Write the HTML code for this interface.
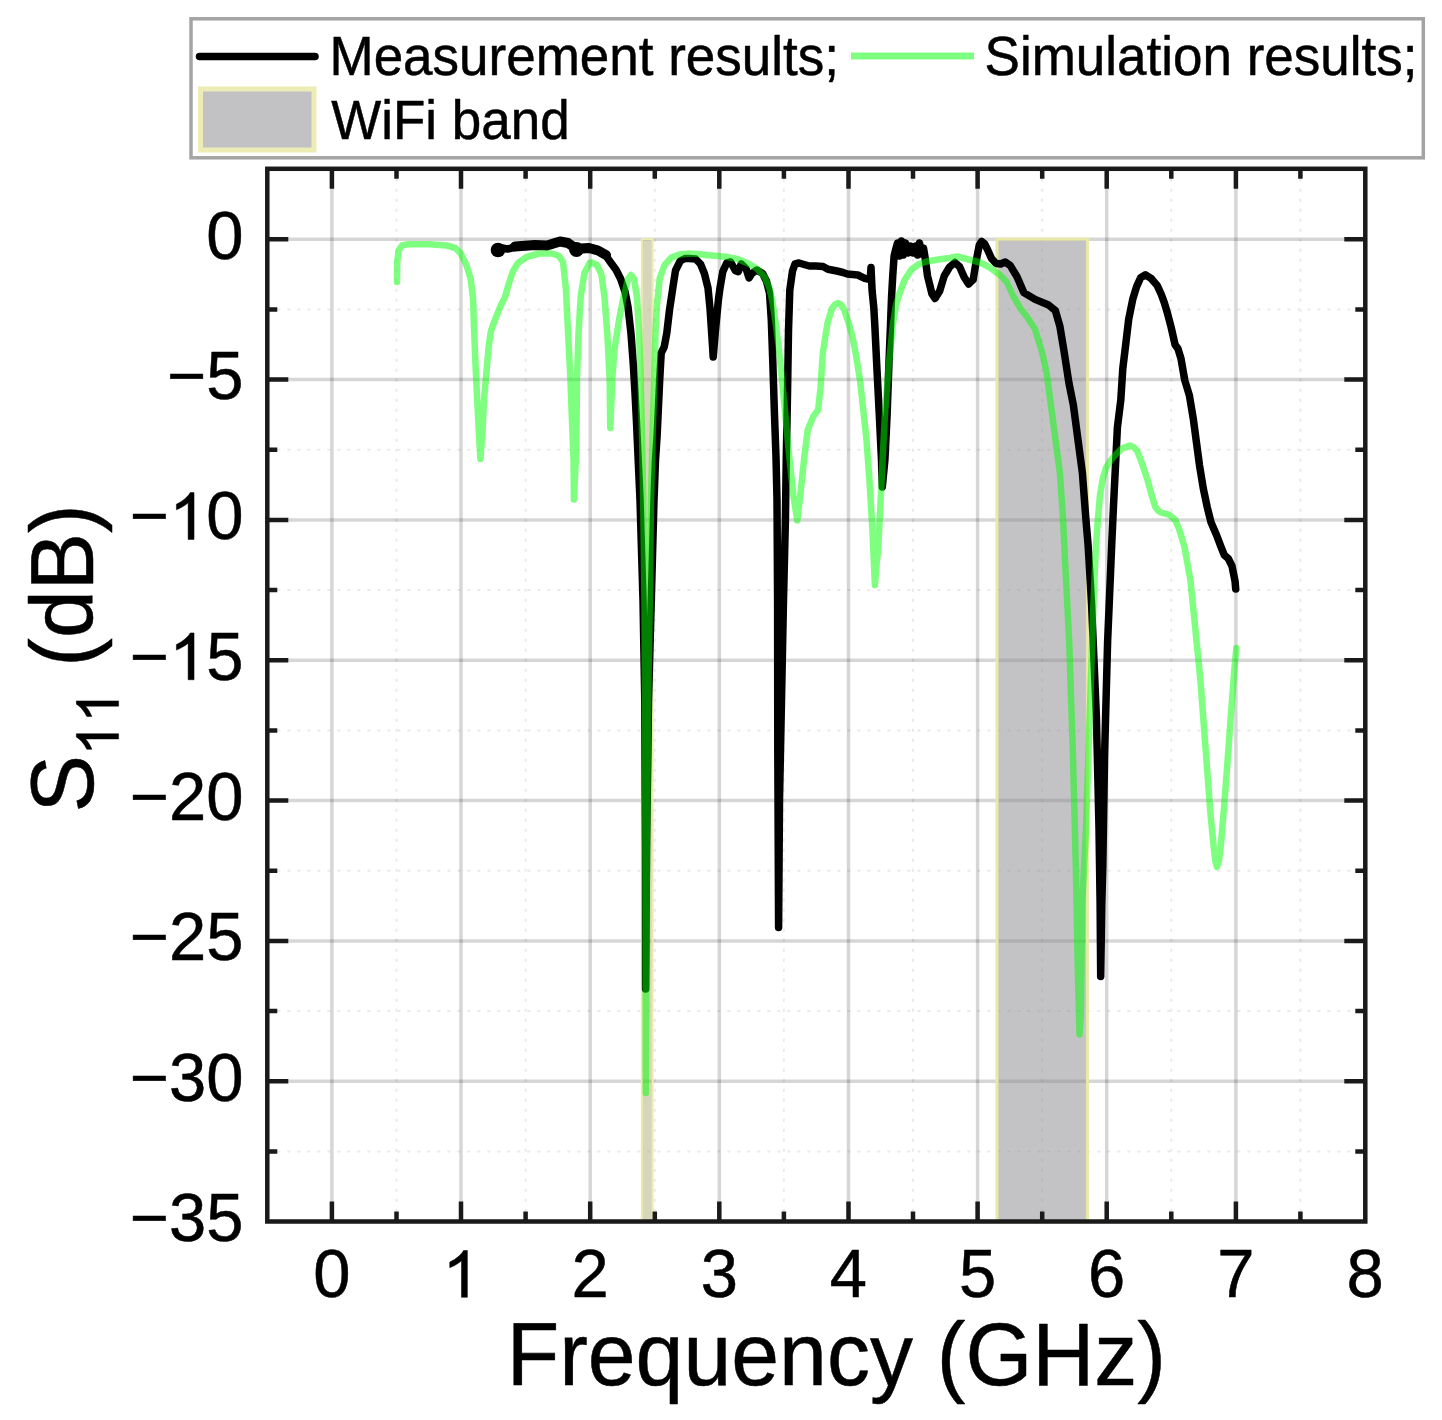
<!DOCTYPE html>
<html><head><meta charset="utf-8"><style>
html,body{margin:0;padding:0;background:#fff;width:1442px;height:1420px;overflow:hidden;position:relative}
#wrap{position:absolute;left:0;top:0;width:1442px;height:1420px}
</style></head><body><div id="wrap">
<svg width="1442" height="1420" viewBox="0 0 1442 1420" style="display:block">
<g>
<rect width="1442" height="1420" fill="#fff"/>
<rect x="191" y="18.8" width="1232.3" height="139" fill="#fff" stroke="#a4a4a4" stroke-width="3.5"/>
<line x1="199.5" y1="56.5" x2="315" y2="56.5" stroke="#000" stroke-width="7.5" stroke-linecap="round"/>
<line x1="851" y1="56" x2="974" y2="56" stroke="#00ff00" stroke-opacity="0.5" stroke-width="7"/>
<rect x="200.5" y="89" width="113.5" height="61" fill="#c2c2c5" stroke="#ececb4" stroke-width="5"/>
<g transform="translate(329.50,74.80) scale(0.02588,0.02704)" fill="#000" stroke="#000" stroke-width="19.3" stroke-linejoin="round"><text x="0" y="0" font-size="2048" font-family='"Liberation Sans", sans-serif' xml:space="preserve">Measurement results;</text></g>
<g transform="translate(984.60,74.80) scale(0.02588,0.02704)" fill="#000" stroke="#000" stroke-width="19.3" stroke-linejoin="round"><text x="0" y="0" font-size="2048" font-family='"Liberation Sans", sans-serif' xml:space="preserve">Simulation results;</text></g>
<g transform="translate(331.20,138.60) scale(0.02588,0.02704)" fill="#000" stroke="#000" stroke-width="19.3" stroke-linejoin="round"><text x="0" y="0" font-size="2048" font-family='"Liberation Sans", sans-serif' xml:space="preserve">WiFi band</text></g>
<path d="M396.5 168.8V1221.5M525.6 168.8V1221.5M654.8 168.8V1221.5M783.9 168.8V1221.5M913.0 168.8V1221.5M1042.2 168.8V1221.5M1171.3 168.8V1221.5M1300.4 168.8V1221.5M267.3 309.4H1365.3M267.3 449.7H1365.3M267.3 590.1H1365.3M267.3 730.4H1365.3M267.3 870.8H1365.3M267.3 1011.1H1365.3M267.3 1151.5H1365.3" stroke="#eaeaea" stroke-width="2" stroke-dasharray="3 7" fill="none"/>
<path d="M331.9 168.8V1221.5M461.0 168.8V1221.5M590.2 168.8V1221.5M719.3 168.8V1221.5M848.5 168.8V1221.5M977.6 168.8V1221.5M1106.7 168.8V1221.5M1235.9 168.8V1221.5" stroke="#000" stroke-opacity="0.16" stroke-width="3.5" fill="none"/>
<path d="M267.3 239.2H1365.3M267.3 379.5H1365.3M267.3 519.9H1365.3M267.3 660.2H1365.3M267.3 800.6H1365.3M267.3 941.0H1365.3M267.3 1081.3H1365.3" stroke="#000" stroke-opacity="0.16" stroke-width="3.5" fill="none"/>
<rect x="641.8" y="239.2" width="10.8" height="982.5" fill="#a4a468" fill-opacity="0.45" stroke="#ececb0" stroke-width="2"/>
<rect x="997.0" y="239.2" width="90.4" height="982.5" fill="#87878d" fill-opacity="0.5" stroke="#e8e8a8" stroke-width="3"/>
<polyline points="495.0,250.0 498.0,250.0 502.0,248.0 507.5,249.0 514.0,247.5 521.0,246.0 535.0,245.0 547.0,245.5 560.0,241.0 568.0,243.0 572.0,246.0 576.5,250.0 581.0,247.5 589.0,247.5 597.0,249.5 604.4,253.7 610.3,262.0 616.2,270.0 620.7,279.0 625.1,292.0 628.0,307.0 631.0,333.6 633.2,363.0 635.0,393.0 636.5,422.0 638.2,460.0 640.0,500.0 643.0,600.0 644.8,700.0 645.5,850.0 645.6,989.0 646.5,850.0 648.5,700.0 651.3,600.0 654.0,500.0 655.5,460.0 657.1,436.0 659.6,382.0 661.2,353.0 664.2,347.0 666.8,333.0 669.5,310.0 673.1,286.0 675.5,270.5 680.2,261.0 685.0,258.5 689.0,258.5 695.6,259.0 700.5,264.0 704.4,273.5 708.0,288.0 710.1,309.5 712.2,341.0 713.2,357.0 715.4,330.6 718.5,299.0 720.0,288.0 722.8,271.6 726.7,263.0 730.6,262.0 735.4,270.6 738.3,271.6 741.3,264.0 746.1,268.7 749.0,278.0 751.9,273.5 756.8,270.0 762.6,273.5 766.5,281.3 769.5,293.0 771.3,320.0 772.8,362.0 774.5,415.0 776.0,457.0 777.0,500.0 777.6,600.0 777.8,750.0 778.6,927.5 779.5,800.0 781.5,700.0 783.5,600.0 785.4,520.0 786.3,457.0 787.5,394.0 788.5,331.0 789.8,290.0 792.5,271.0 795.0,264.0 799.0,263.0 804.0,264.5 809.3,266.0 816.0,266.0 823.0,266.5 828.0,269.2 837.0,271.0 843.0,272.5 847.4,274.0 857.8,275.0 864.7,278.3 870.2,279.5 871.0,267.5 872.1,290.7 873.8,307.6 874.8,325.0 877.0,370.0 879.3,415.0 881.5,460.0 882.3,487.0 884.9,460.0 887.1,415.0 888.7,370.0 890.5,325.0 891.6,296.0 892.8,275.0 894.1,256.0 895.5,250.0 897.5,243.0 899.5,256.0 901.5,241.0 903.5,255.0 905.5,243.0 908.0,253.0 910.5,246.0 913.0,253.0 915.5,246.0 917.5,255.0 919.5,243.0 921.5,254.0 923.5,248.0 925.0,257.0 927.5,275.8 932.0,294.0 935.0,298.5 939.7,291.0 944.2,276.0 949.6,267.0 954.9,262.5 959.5,266.6 964.1,277.0 968.6,284.0 973.2,279.6 976.3,260.5 979.3,245.0 981.6,241.5 984.7,244.0 987.7,250.0 991.5,258.5 996.1,263.5 1000.7,264.0 1005.3,262.0 1010.3,265.6 1017.0,276.8 1023.8,292.6 1035.1,299.4 1048.6,305.0 1055.4,310.7 1059.9,326.4 1064.4,353.5 1068.9,382.8 1073.4,405.3 1077.9,439.2 1082.4,473.0 1085.8,518.0 1088.1,545.0 1091.6,604.6 1096.4,716.6 1099.0,828.5 1100.1,903.0 1100.7,976.5 1101.8,903.0 1102.8,866.0 1104.6,754.0 1107.6,642.0 1111.7,545.0 1113.7,501.5 1117.4,427.5 1120.8,400.0 1122.8,368.5 1125.8,343.8 1128.7,319.2 1132.7,299.4 1136.6,286.6 1140.6,277.8 1145.5,274.8 1151.4,278.7 1157.3,285.6 1161.3,294.5 1164.2,302.4 1167.2,312.3 1171.1,327.1 1175.1,344.8 1178.0,348.8 1181.0,358.6 1184.7,380.0 1189.4,395.5 1193.3,418.8 1196.4,442.0 1199.5,465.3 1203.3,488.5 1207.2,507.1 1211.1,522.6 1216.5,535.0 1221.2,547.4 1224.3,555.2 1228.1,558.3 1232.0,566.0 1235.1,581.6 1235.7,589.0" fill="none" stroke="#000" stroke-width="7.5" stroke-linejoin="round" stroke-linecap="round"/>
<polyline points="515,246.5 535,245 547,245.5 560,241.5 568,243 576.5,249 589,248 598,250.5 606,255" fill="none" stroke="#000" stroke-width="10" stroke-linejoin="round" stroke-linecap="round"/>
<circle cx="498" cy="250" r="7.3" fill="#000"/><circle cx="576.5" cy="249.5" r="7.5" fill="#000"/>
<polyline points="397.0,282.0 397.2,262.0 398.6,250.5 402.0,245.5 408.0,244.3 429.0,244.3 446.6,245.5 455.4,248.0 460.7,253.5 466.0,264.0 470.5,278.0 473.0,298.0 474.1,330.0 475.5,365.0 477.2,400.0 479.0,435.0 480.4,459.0 482.3,435.0 484.0,400.0 486.6,370.0 488.5,348.0 490.9,331.0 495.7,318.0 500.5,306.0 505.0,297.0 509.0,283.0 513.0,271.0 518.0,263.0 526.5,257.0 539.0,253.5 552.0,253.5 559.0,256.0 563.0,262.0 565.9,289.0 568.1,333.6 570.4,378.0 572.0,422.0 573.6,460.0 573.9,499.5 575.8,460.0 576.6,422.0 577.0,378.0 578.5,333.6 580.7,296.6 584.4,273.0 589.6,263.0 591.8,262.5 597.0,265.0 601.4,274.4 604.4,296.6 607.3,333.6 609.6,378.0 610.3,428.0 612.3,378.0 614.7,348.3 619.2,318.8 623.6,296.6 628.0,279.0 631.0,275.0 634.0,279.0 636.9,296.6 639.1,333.6 640.6,378.0 642.1,440.0 643.2,500.0 644.5,600.0 645.0,700.0 645.5,900.0 645.8,1093.0 646.6,900.0 648.2,700.0 649.8,600.0 651.0,500.0 652.5,440.0 654.3,378.0 655.6,330.0 657.0,305.0 659.7,278.4 664.6,265.0 671.4,257.5 679.1,254.5 688.8,253.5 698.5,254.0 708.3,255.2 718.0,256.1 727.7,257.1 737.4,259.0 747.1,263.0 756.8,268.5 764.6,277.0 769.4,288.0 772.5,302.0 775.5,322.0 778.5,345.0 781.0,370.0 785.0,411.0 789.3,457.0 793.3,495.0 797.3,520.5 800.5,493.0 804.2,458.0 807.7,430.0 813.5,416.0 818.1,410.0 820.5,388.0 822.8,353.0 827.5,323.0 832.0,308.5 835.0,304.5 838.3,303.0 841.0,304.5 843.7,309.0 848.4,322.0 852.3,336.0 856.0,355.0 860.1,381.0 866.3,437.6 869.6,482.6 872.3,527.6 874.0,565.0 874.9,585.0 876.5,565.0 878.1,550.0 880.4,505.0 882.6,460.0 884.9,415.0 888.3,370.0 892.8,325.0 896.0,305.0 899.5,293.5 904.6,280.0 911.4,269.5 919.1,264.0 926.7,261.5 938.1,259.5 949.6,258.0 957.2,256.5 964.8,258.5 972.5,260.5 980.1,262.5 989.0,267.0 995.0,271.5 999.6,274.5 1006.7,282.0 1013.7,297.0 1020.8,309.0 1027.8,318.0 1034.9,329.0 1041.8,351.2 1046.4,371.5 1050.9,405.3 1055.4,439.2 1059.9,473.0 1063.0,518.0 1065.0,560.0 1069.2,642.0 1072.9,754.0 1075.8,866.0 1078.0,978.0 1079.5,1034.5 1080.8,1015.0 1082.3,903.0 1086.0,828.5 1089.7,716.6 1093.4,604.6 1096.0,545.0 1098.0,518.0 1100.0,495.0 1102.5,480.0 1105.9,468.0 1109.5,462.0 1113.8,456.5 1121.7,448.6 1129.6,445.6 1134.0,447.5 1137.5,451.6 1142.4,464.4 1147.3,479.2 1151.3,494.0 1155.2,506.8 1158.0,510.5 1161.1,512.7 1169.0,514.7 1175.0,519.6 1178.9,528.5 1181.9,538.3 1184.8,548.2 1186.8,560.0 1190.4,580.0 1193.8,613.8 1197.2,647.6 1200.5,681.4 1203.9,726.4 1207.3,771.4 1210.7,816.5 1213.8,848.0 1215.3,861.0 1217.0,867.0 1218.9,861.0 1220.6,848.0 1224.2,805.2 1227.6,760.2 1230.9,715.1 1234.3,670.1 1236.3,648.0" fill="none" stroke="#00ff00" stroke-opacity="0.5" stroke-width="6.5" stroke-linejoin="round" stroke-linecap="round"/>
<path d="M331.9 1221.5v-20M331.9 168.8v20M396.5 1221.5v-10M396.5 168.8v10M461.0 1221.5v-20M461.0 168.8v20M525.6 1221.5v-10M525.6 168.8v10M590.2 1221.5v-20M590.2 168.8v20M654.8 1221.5v-10M654.8 168.8v10M719.3 1221.5v-20M719.3 168.8v20M783.9 1221.5v-10M783.9 168.8v10M848.5 1221.5v-20M848.5 168.8v20M913.0 1221.5v-10M913.0 168.8v10M977.6 1221.5v-20M977.6 168.8v20M1042.2 1221.5v-10M1042.2 168.8v10M1106.7 1221.5v-20M1106.7 168.8v20M1171.3 1221.5v-10M1171.3 168.8v10M1235.9 1221.5v-20M1235.9 168.8v20M1300.4 1221.5v-10M1300.4 168.8v10M267.3 239.2h21M1365.3 239.2h-21M267.3 309.4h10M1365.3 309.4h-10M267.3 379.5h21M1365.3 379.5h-21M267.3 449.7h10M1365.3 449.7h-10M267.3 519.9h21M1365.3 519.9h-21M267.3 590.1h10M1365.3 590.1h-10M267.3 660.2h21M1365.3 660.2h-21M267.3 730.4h10M1365.3 730.4h-10M267.3 800.6h21M1365.3 800.6h-21M267.3 870.8h10M1365.3 870.8h-10M267.3 941.0h21M1365.3 941.0h-21M267.3 1011.1h10M1365.3 1011.1h-10M267.3 1081.3h21M1365.3 1081.3h-21M267.3 1151.5h10M1365.3 1151.5h-10" stroke="#1a1a1a" stroke-width="4.5" fill="none"/>
<rect x="267.3" y="168.8" width="1098.0" height="1052.7" fill="none" stroke="#1a1a1a" stroke-width="4.5"/>
<g transform="translate(206.34,258.70) scale(0.03271,0.03321)" fill="#000" stroke="#000" stroke-width="15.3" stroke-linejoin="round"><text x="0" y="0" font-size="2048" font-family='"Liberation Sans", sans-serif' xml:space="preserve">0</text></g>
<g transform="translate(167.21,399.05) scale(0.03271,0.03321)" fill="#000" stroke="#000" stroke-width="15.3" stroke-linejoin="round"><text x="0" y="0" font-size="2048" font-family='"Liberation Sans", sans-serif' xml:space="preserve">−5</text></g>
<g transform="translate(129.95,539.40) scale(0.03271,0.03321)" fill="#000" stroke="#000" stroke-width="15.3" stroke-linejoin="round"><text x="0" y="0" font-size="2048" font-family='"Liberation Sans", sans-serif' xml:space="preserve">−</text><path transform="translate(1196,0) scale(1,-1)" d="M763 0H583V1102C540 1063 483 1022 413 983C343 944 280 914 224 893V1060C325 1106 412 1161 487 1226C562 1292 615 1353 646 1409H763Z"/><text x="2335" y="0" font-size="2048" font-family='"Liberation Sans", sans-serif' xml:space="preserve">0</text></g>
<g transform="translate(129.95,679.75) scale(0.03271,0.03321)" fill="#000" stroke="#000" stroke-width="15.3" stroke-linejoin="round"><text x="0" y="0" font-size="2048" font-family='"Liberation Sans", sans-serif' xml:space="preserve">−</text><path transform="translate(1196,0) scale(1,-1)" d="M763 0H583V1102C540 1063 483 1022 413 983C343 944 280 914 224 893V1060C325 1106 412 1161 487 1226C562 1292 615 1353 646 1409H763Z"/><text x="2335" y="0" font-size="2048" font-family='"Liberation Sans", sans-serif' xml:space="preserve">5</text></g>
<g transform="translate(129.95,820.10) scale(0.03271,0.03321)" fill="#000" stroke="#000" stroke-width="15.3" stroke-linejoin="round"><text x="0" y="0" font-size="2048" font-family='"Liberation Sans", sans-serif' xml:space="preserve">−20</text></g>
<g transform="translate(129.95,960.45) scale(0.03271,0.03321)" fill="#000" stroke="#000" stroke-width="15.3" stroke-linejoin="round"><text x="0" y="0" font-size="2048" font-family='"Liberation Sans", sans-serif' xml:space="preserve">−25</text></g>
<g transform="translate(129.95,1100.80) scale(0.03271,0.03321)" fill="#000" stroke="#000" stroke-width="15.3" stroke-linejoin="round"><text x="0" y="0" font-size="2048" font-family='"Liberation Sans", sans-serif' xml:space="preserve">−30</text></g>
<g transform="translate(129.95,1241.15) scale(0.03271,0.03321)" fill="#000" stroke="#000" stroke-width="15.3" stroke-linejoin="round"><text x="0" y="0" font-size="2048" font-family='"Liberation Sans", sans-serif' xml:space="preserve">−35</text></g>
<g transform="translate(313.27,1297.30) scale(0.03271,0.03321)" fill="#000" stroke="#000" stroke-width="15.3" stroke-linejoin="round"><text x="0" y="0" font-size="2048" font-family='"Liberation Sans", sans-serif' xml:space="preserve">0</text></g>
<g transform="translate(442.41,1297.30) scale(0.03271,0.03321)" fill="#000" stroke="#000" stroke-width="15.3" stroke-linejoin="round"><path transform="translate(0,0) scale(1,-1)" d="M763 0H583V1102C540 1063 483 1022 413 983C343 944 280 914 224 893V1060C325 1106 412 1161 487 1226C562 1292 615 1353 646 1409H763Z"/></g>
<g transform="translate(571.55,1297.30) scale(0.03271,0.03321)" fill="#000" stroke="#000" stroke-width="15.3" stroke-linejoin="round"><text x="0" y="0" font-size="2048" font-family='"Liberation Sans", sans-serif' xml:space="preserve">2</text></g>
<g transform="translate(700.69,1297.30) scale(0.03271,0.03321)" fill="#000" stroke="#000" stroke-width="15.3" stroke-linejoin="round"><text x="0" y="0" font-size="2048" font-family='"Liberation Sans", sans-serif' xml:space="preserve">3</text></g>
<g transform="translate(829.83,1297.30) scale(0.03271,0.03321)" fill="#000" stroke="#000" stroke-width="15.3" stroke-linejoin="round"><text x="0" y="0" font-size="2048" font-family='"Liberation Sans", sans-serif' xml:space="preserve">4</text></g>
<g transform="translate(958.97,1297.30) scale(0.03271,0.03321)" fill="#000" stroke="#000" stroke-width="15.3" stroke-linejoin="round"><text x="0" y="0" font-size="2048" font-family='"Liberation Sans", sans-serif' xml:space="preserve">5</text></g>
<g transform="translate(1088.11,1297.30) scale(0.03271,0.03321)" fill="#000" stroke="#000" stroke-width="15.3" stroke-linejoin="round"><text x="0" y="0" font-size="2048" font-family='"Liberation Sans", sans-serif' xml:space="preserve">6</text></g>
<g transform="translate(1217.25,1297.30) scale(0.03271,0.03321)" fill="#000" stroke="#000" stroke-width="15.3" stroke-linejoin="round"><text x="0" y="0" font-size="2048" font-family='"Liberation Sans", sans-serif' xml:space="preserve">7</text></g>
<g transform="translate(1346.39,1297.30) scale(0.03271,0.03321)" fill="#000" stroke="#000" stroke-width="15.3" stroke-linejoin="round"><text x="0" y="0" font-size="2048" font-family='"Liberation Sans", sans-serif' xml:space="preserve">8</text></g>
<g transform="translate(506.65,1384.90) scale(0.04199,0.04367)" fill="#000" stroke="#000" stroke-width="11.9" stroke-linejoin="round"><text x="0" y="0" font-size="2048" font-family='"Liberation Sans", sans-serif' xml:space="preserve">Frequency (GHz)</text></g>
<g transform="translate(92.8,812.6) rotate(-90)"><g transform="translate(0.00,0.00) scale(0.04199,0.04367)" fill="#000" stroke="#000" stroke-width="11.9" stroke-linejoin="round"><text x="0" y="0" font-size="2048" font-family='"Liberation Sans", sans-serif' xml:space="preserve">S</text></g><g transform="translate(56.86,25.80) scale(0.02881,0.02996)" fill="#000" stroke="#000" stroke-width="17.4" stroke-linejoin="round"><path transform="translate(0,0) scale(1,-1)" d="M763 0H583V1102C540 1063 483 1022 413 983C343 944 280 914 224 893V1060C325 1106 412 1161 487 1226C562 1292 615 1353 646 1409H763Z"/><path transform="translate(1139,0) scale(1,-1)" d="M763 0H583V1102C540 1063 483 1022 413 983C343 944 280 914 224 893V1060C325 1106 412 1161 487 1226C562 1292 615 1353 646 1409H763Z"/></g><g transform="translate(121.99,0.00) scale(0.04199,0.04367)" fill="#000" stroke="#000" stroke-width="11.9" stroke-linejoin="round"><text x="0" y="0" font-size="2048" font-family='"Liberation Sans", sans-serif' xml:space="preserve"> (dB)</text></g></g>
</g>
</svg>
</div></body></html>
